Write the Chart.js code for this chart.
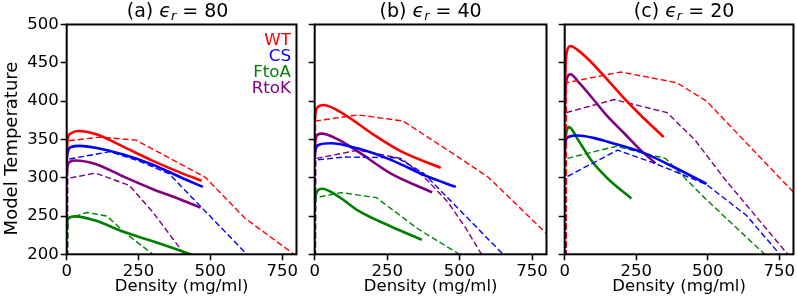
<!DOCTYPE html>
<html>
<head>
<meta charset="utf-8">
<script src="https://cdn.jsdelivr.net/npm/chart.js@4.4.0/dist/chart.umd.min.js"></script>
<style>
  body { margin: 0; background: #fff; width: 797px; height: 297px; position: relative; overflow: hidden; }
  canvas { position: absolute; top: 0; }
</style>
</head>
<body>
<canvas id="pa" width="300" height="297" style="left:0"></canvas>
<canvas id="pb" width="250" height="297" style="left:300px"></canvas>
<canvas id="pc" width="247" height="297" style="left:550px"></canvas>
<script>
const species = ['WT', 'CS', 'FtoA', 'RtoK']
const colors = ['#ff0000', '#0000ff', '#008000', '#800080']
const panelTags = ['(a)', '(b)', '(c)']
const epsilons = [80, 40, 20]
const xTicks = [0, 250, 500, 750]
const yTicks = [200, 250, 300, 350, 400, 450, 500]

// solid curves, [density, temperature]
const wt80 = [[0, 335], [3, 350], [15, 358], [40, 361], [100, 357], [200, 340], [300, 322], [400, 306], [470, 296]]
const cs80 = [[0, 322], [3, 333], [15, 340], [46, 341.5], [100, 339], [200, 330], [300, 317], [400, 300], [474, 288]]
const ftoa80 = [[0, 235], [3, 244], [12, 248.5], [30, 249.5], [100, 244], [200, 229], [300, 217], [430, 200], [470, 194]]
const rtok80 = [[0, 305], [3, 315], [12, 321], [30, 322.5], [100, 318], [200, 301], [300, 285], [400, 271], [466, 261]]

const wt40 = [[0, 372], [3, 385], [10, 392], [30, 395], [100, 383], [200, 357], [300, 334], [435, 313]]
const cs40 = [[0, 325], [3, 337], [15, 343], [55, 345], [150, 338], [265, 323], [380, 303], [487, 288]]
const ftoa40 = [[0, 262], [3, 275], [10, 283], [25, 285.5], [80, 276], [150, 257], [265, 236], [370, 219]]
const rtok40 = [[0, 335], [3, 350], [10, 356], [25, 357.5], [80, 350], [150, 334], [265, 305], [405, 281]]

const wt20 = [[0, 400], [3, 445], [8, 465], [20, 472], [46, 466.5], [92, 451], [150, 427.6], [208, 403.6], [265, 381.8], [346, 353]]
const cs20 = [[0, 335], [3, 348], [15, 353.5], [45, 355], [100, 352], [150, 347], [265, 334], [381, 314], [496, 292]]
const ftoa20 = [[0, 330], [3, 352], [8, 362], [15, 366], [46, 350], [92, 323], [150, 299], [233, 273]]
const rtok20 = [[0, 380], [3, 415], [8, 430], [20, 435], [50, 424], [92, 406], [150, 380], [208, 358], [260, 338], [317, 319]]

// dashed curves
const wt80d = [[2, 150], [3, 348], [115, 353], [241, 349], [483, 300.5], [621, 247], [771, 205.7], [795, 199]]
const cs80d = [[2, 150], [3, 324], [150, 334], [250, 322], [357, 305], [627, 200], [640, 195]]
const ftoa80d = [[2, 150], [5, 247], [70, 254.5], [140, 250], [210, 226], [300, 200], [320, 194]]
const rtok80d = [[2, 150], [3, 299], [100, 306], [218, 290], [300, 255], [410, 200], [420, 195]]

const wt40d = [[2, 150], [3, 374], [150, 382], [305, 374], [483, 330], [598, 301], [800, 227]]
const cs40d = [[2, 150], [3, 323], [100, 327], [285, 326], [375, 306], [500, 258], [650, 200], [660, 196]]
const ftoa40d = [[2, 150], [3, 274], [92, 280.5], [213, 274], [357, 233], [500, 200], [510, 197]]
const rtok40d = [[2, 150], [3, 325], [150, 336], [300, 325], [380, 300], [460, 268], [520, 235], [576, 200], [580, 197]]

const wt20d = [[5, 150], [6, 424], [196, 438], [392, 424], [496, 400], [800, 281]]
const cs20d = [[5, 150], [6, 301], [185, 336], [320, 318], [496, 291], [635, 251], [752, 200], [760, 196]]
const ftoa20d = [[5, 150], [6, 325], [180, 341], [353, 325], [491, 273], [705, 198]]
const rtok20d = [[5, 150], [6, 385], [173, 402], [358, 385], [456, 349], [560, 298], [780, 200], [790, 195]]

const solidSets = [[wt80, cs80, ftoa80, rtok80], [wt40, cs40, ftoa40, rtok40], [wt20, cs20, ftoa20, rtok20]]
const dashedSets = [[wt80d, cs80d, ftoa80d, rtok80d], [wt40d, cs40d, ftoa40d, rtok40d], [wt20d, cs20d, ftoa20d, rtok20d]]

const FONT = 'DejaVu Sans'
Chart.defaults.font.family = FONT
Chart.defaults.color = '#000'

const toPoints = arr => arr.map(([x, y]) => ({ x, y }))
const titleShift = [-4, 0, 5]

// box around the axes, title with epsilon_r, legend, shared y label
const decor = {
  id: 'decor',
  afterDraw(chart, args, opts) {
    const { ctx, chartArea: a } = chart
    ctx.save()
    ctx.strokeStyle = '#000'
    ctx.lineWidth = 2
    ctx.strokeRect(a.left, a.top, a.right - a.left, a.bottom - a.top)

    const big = 19, small = 13
    const parts = [
      [panelTags[opts.index] + ' ', `${big}px "${FONT}"`, 0],
      ['\u03f5', `italic ${big}px "${FONT}"`, 0],
      ['r', `italic ${small}px "${FONT}"`, 3],
      [' = ' + epsilons[opts.index], `${big}px "${FONT}"`, 0],
    ]
    let w = 0
    parts.forEach(p => { ctx.font = p[1]; w += ctx.measureText(p[0]).width })
    let x = (a.left + a.right) / 2 + titleShift[opts.index] - w / 2
    ctx.fillStyle = '#000'
    ctx.textBaseline = 'alphabetic'
    ctx.textAlign = 'left'
    parts.forEach(p => {
      ctx.font = p[1]
      ctx.fillText(p[0], x, 17 + p[2])
      x += ctx.measureText(p[0]).width
    })

    if (opts.legend) {
      ctx.font = `16.7px "${FONT}"`
      ctx.textAlign = 'right'
      species.forEach((name, k) => {
        ctx.fillStyle = colors[k]
        ctx.fillText(name, a.right - 5.5, 45 + k * 16)
      })

      ctx.fillStyle = '#000'
      ctx.font = `18px "${FONT}"`
      ctx.textAlign = 'center'
      ctx.translate(16.5, 148.5)
      ctx.rotate(-Math.PI / 2)
      ctx.fillText('Model Temperature', 0, 0)
    }
    ctx.restore()
  }
}

function makePanel(index, id, yWidth, rightPad) {
  const datasets = []
  species.forEach((name, k) => {
    datasets.push({
      label: name,
      data: toPoints(solidSets[index][k]),
      borderColor: colors[k],
      borderWidth: 2.6,
      pointRadius: 0,
      cubicInterpolationMode: 'monotone',
      fill: false,
    })
    datasets.push({
      label: name + ' dashed',
      data: toPoints(dashedSets[index][k]),
      borderColor: colors[k],
      borderWidth: 1.4,
      borderDash: [6, 3],
      pointRadius: 0,
      tension: 0,
      fill: false,
    })
  })

  const first = index === 0
  return new Chart(document.getElementById(id), {
    type: 'line',
    data: { datasets },
    options: {
      responsive: false,
      animation: false,
      events: [],
      layout: { padding: { top: 24.5, right: rightPad, left: 0, bottom: 0 } },
      plugins: {
        legend: { display: false },
        tooltip: { enabled: false },
        decor: { index, legend: first },
      },
      scales: {
        x: {
          type: 'linear',
          min: 0,
          max: 800,
          afterBuildTicks: s => { s.ticks = xTicks.map(v => ({ value: v })) },
          afterFit: s => { s.height = 42.7 },
          border: { display: false },
          grid: { drawOnChartArea: false, tickLength: 6, tickWidth: 1.5, tickColor: '#000' },
          ticks: { color: '#000', font: { size: 16.5 }, padding: 2, maxRotation: 0, autoSkip: false },
          title: { display: true, text: 'Density (mg/ml)', color: '#000', font: { size: 16.5 }, padding: { top: 0, bottom: 0 } },
        },
        y: {
          type: 'linear',
          min: 200,
          max: 500,
          afterBuildTicks: s => { s.ticks = yTicks.map(v => ({ value: v })) },
          afterFit: s => { s.width = yWidth },
          border: { display: false },
          grid: { drawOnChartArea: false, tickLength: 6, tickWidth: 1.5, tickColor: '#000' },
          ticks: {
            color: '#000',
            font: { size: 16.5 },
            padding: 2,
            autoSkip: false,
            callback: v => first ? String(v) : '',
          },
        },
      },
    },
    plugins: [decor],
  })
}

makePanel(0, 'pa', 66.7, 2)
makePanel(1, 'pb', 14.7, 3.5)
makePanel(2, 'pc', 14.7, 1.3)
</script>
</body>
</html>
